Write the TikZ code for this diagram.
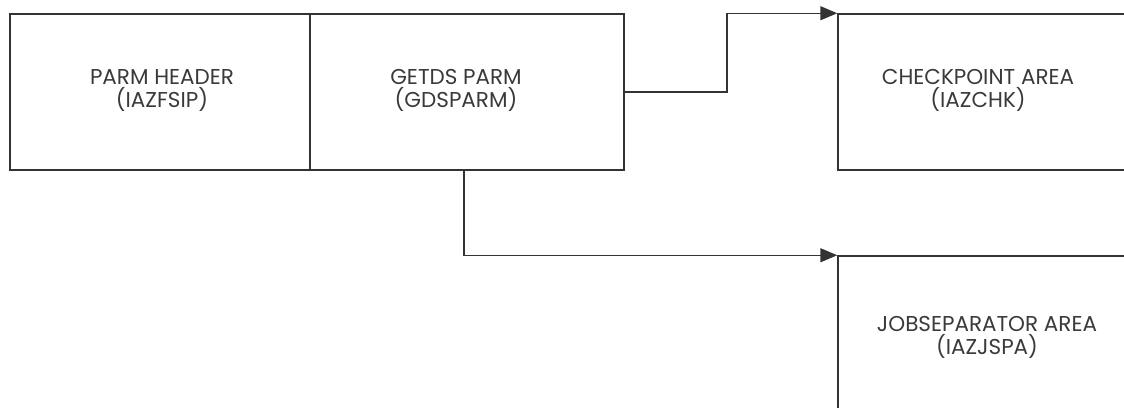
\documentclass[tikz,border=0pt]{standalone}
\usepackage{fontspec}
\setmainfont{Poppins}
\usetikzlibrary{arrows.meta}
\definecolor{ink}{HTML}{333333}
\definecolor{txt}{HTML}{3A3A3A}
\tikzset{
  box/.style={draw=ink, line width=1.5pt, inner sep=0pt},
  lbl/.style={text=txt, align=center, font=\fontsize{21.5}{23}\selectfont, inner sep=0pt},
  conn/.style={draw=ink, line width=1.5pt, -{Triangle[length=17pt,width=14pt]}}
}
\begin{document}
\begin{tikzpicture}[x=1pt,y=-1pt]
\useasboundingbox (0,0) rectangle (1124,407);
\clip (0,0) rectangle (1124,407);
\node[box, minimum width=300pt, minimum height=156pt] (hdr) at (160,92) {};
\node[box, minimum width=314pt, minimum height=156pt] (gds) at (467,92) {};
\node[box, minimum width=310pt, minimum height=156pt] (chk) at (993,92) {};
\node[box, minimum width=310pt, minimum height=180pt] (jsp) at (993,346) {};
\node[lbl] (thdr) at (162,90) {PARM HEADER\\(IAZFSIP)};
\node[lbl] (tgds) at (456,90) {GETDS PARM\\(GDSPARM)};
\node[lbl] (tchk) at (978,90) {CHECKPOINT AREA\\(IAZCHK)};
\node[lbl] (tjsp) at (987,337) {JOBSEPARATOR AREA\\(IAZJSPA)};
\draw[conn] (gds.east) -- ++(102,0) |- (chk.north west);
\draw[conn] ([xshift=-3pt]gds.south) |- (jsp.north west);
\end{tikzpicture}
\end{document}
